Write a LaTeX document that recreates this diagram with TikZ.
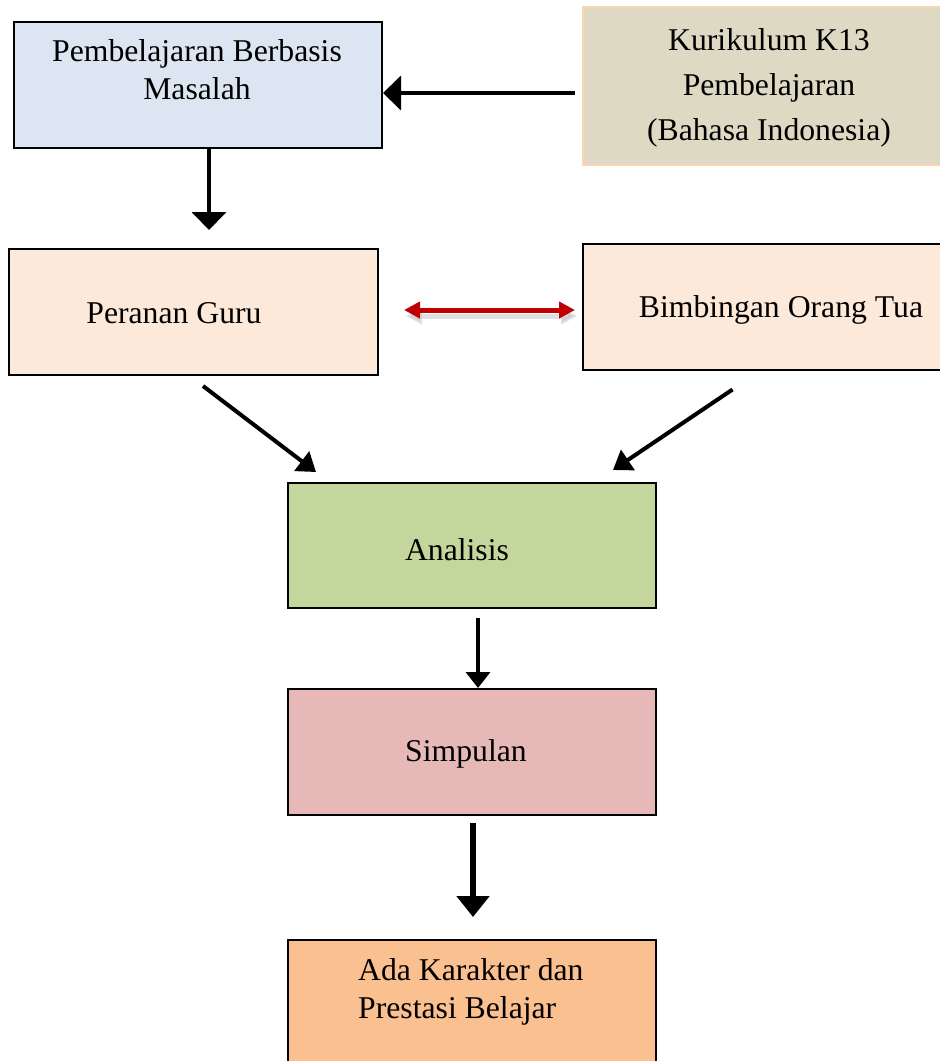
\documentclass[tikz,border=0pt]{standalone}
\usepackage{fontspec}
\setmainfont{Liberation Serif}
\usetikzlibrary{arrows.meta}
\definecolor{cblue}{HTML}{DCE6F2}
\definecolor{ctan}{HTML}{DDD9C3}
\definecolor{cpeach}{HTML}{FBD4B4}
\definecolor{cpink}{HTML}{FDE9D9}
\definecolor{cgreen}{HTML}{C3D69B}
\definecolor{crose}{HTML}{E6B9B8}
\definecolor{corange}{HTML}{FAC090}
\definecolor{cred}{HTML}{C00000}
\tikzset{
  box/.style={draw=black, line width=2pt, inner sep=0pt},
  txt/.style={anchor=base, inner sep=0pt, font=\fontsize{31.7}{38}\selectfont},
  arr/.style={line width=4pt, -{Triangle[width=34pt,length=18pt]}},
}
\begin{document}
\begin{tikzpicture}[x=1pt,y=-1pt]
\useasboundingbox (0,0) rectangle (940,1061);
% boxes
\node[box, fill=cblue, minimum width=368pt, minimum height=126pt] (pbm) at (198,85) {};
\node[draw=cpeach, line width=2pt, fill=ctan, inner sep=0pt, minimum width=366pt, minimum height=158pt] (kur) at (766,86) {};
\node[box, fill=cpink, minimum width=369pt, minimum height=126pt] (per) at (193.5,312) {};
\node[box, fill=cpink, minimum width=366pt, minimum height=126pt] (bim) at (766,306.5) {};
\node[box, fill=cgreen, minimum width=368pt, minimum height=125pt] (ana) at (472,545.5) {};
\node[box, fill=crose, minimum width=368pt, minimum height=126pt] (sim) at (472,752) {};
\node[box, fill=corange, minimum width=368pt, minimum height=140pt] (ada) at (472,1010) {};
% texts (multi-line: base = last line's baseline)
\node[txt, align=center] (t1) at (197,99) {Pembelajaran Berbasis\\Masalah};
\node[txt, align=center, font=\fontsize{31.7}{45}\selectfont] (t2) at (769,140) {Kurikulum K13\\Pembelajaran\\(Bahasa Indonesia)};
\node[txt] (t3) at (174,323) {Peranan Guru};
\node[txt] (t4) at (781,317) {Bimbingan Orang Tua};
\node[txt] (t5) at (457,560) {Analisis};
\node[txt] (t6) at (466,761) {Simpulan};
\node[txt, align=left, anchor=base west] (t7) at (358,1018) {Ada Karakter dan\\Prestasi Belajar};
% connectors
\draw[arr, shorten <=7pt] ([yshift=-7pt]kur.west) -- ([yshift=-7pt]kur.west -| pbm.east);
\draw[arr, shorten >=18pt] ([xshift=11pt]pbm.south) -- ([xshift=11pt]pbm.south |- per.north);
% red double arrow with soft shadow
\draw[line width=5pt, black!25, opacity=0.5, shorten <=25pt, shorten >=7pt,
  {Triangle[width=16pt,length=16pt]}-{Triangle[width=16pt,length=16pt]}]
  ([xshift=2pt,yshift=-4pt]per.east) -- ([xshift=2pt,yshift=-4pt]per.east -| bim.west);
\draw[line width=5pt, cred, shorten <=25pt, shorten >=7pt,
  {Triangle[width=16pt,length=16pt]}-{Triangle[width=16pt,length=16pt]}]
  ([yshift=2pt]per.east) -- ([yshift=2pt]per.east -| bim.west);
% diagonals
\draw[line width=4pt, -{Triangle[width=24pt,length=18pt]}]
  ([xshift=9.5pt,yshift=-10pt]per.south) -- ([xshift=-156pt,yshift=10pt]ana.north);
\draw[line width=4pt, -{Triangle[width=24pt,length=18pt]}]
  ([xshift=-33.5pt,yshift=-19pt]bim.south) -- ([xshift=141pt,yshift=12pt]ana.north);
% lower verticals
\draw[line width=3.5pt, -{Triangle[width=24pt,length=16pt]}, shorten <=9pt]
  ([xshift=6pt]ana.south) -- ([xshift=6pt]ana.south |- sim.north);
\draw[line width=5.5pt, -{Triangle[width=32pt,length=21pt]}, shorten <=7pt, shorten >=22pt]
  ([xshift=1pt]sim.south) -- ([xshift=1pt]sim.south |- ada.north);
\end{tikzpicture}
\end{document}
